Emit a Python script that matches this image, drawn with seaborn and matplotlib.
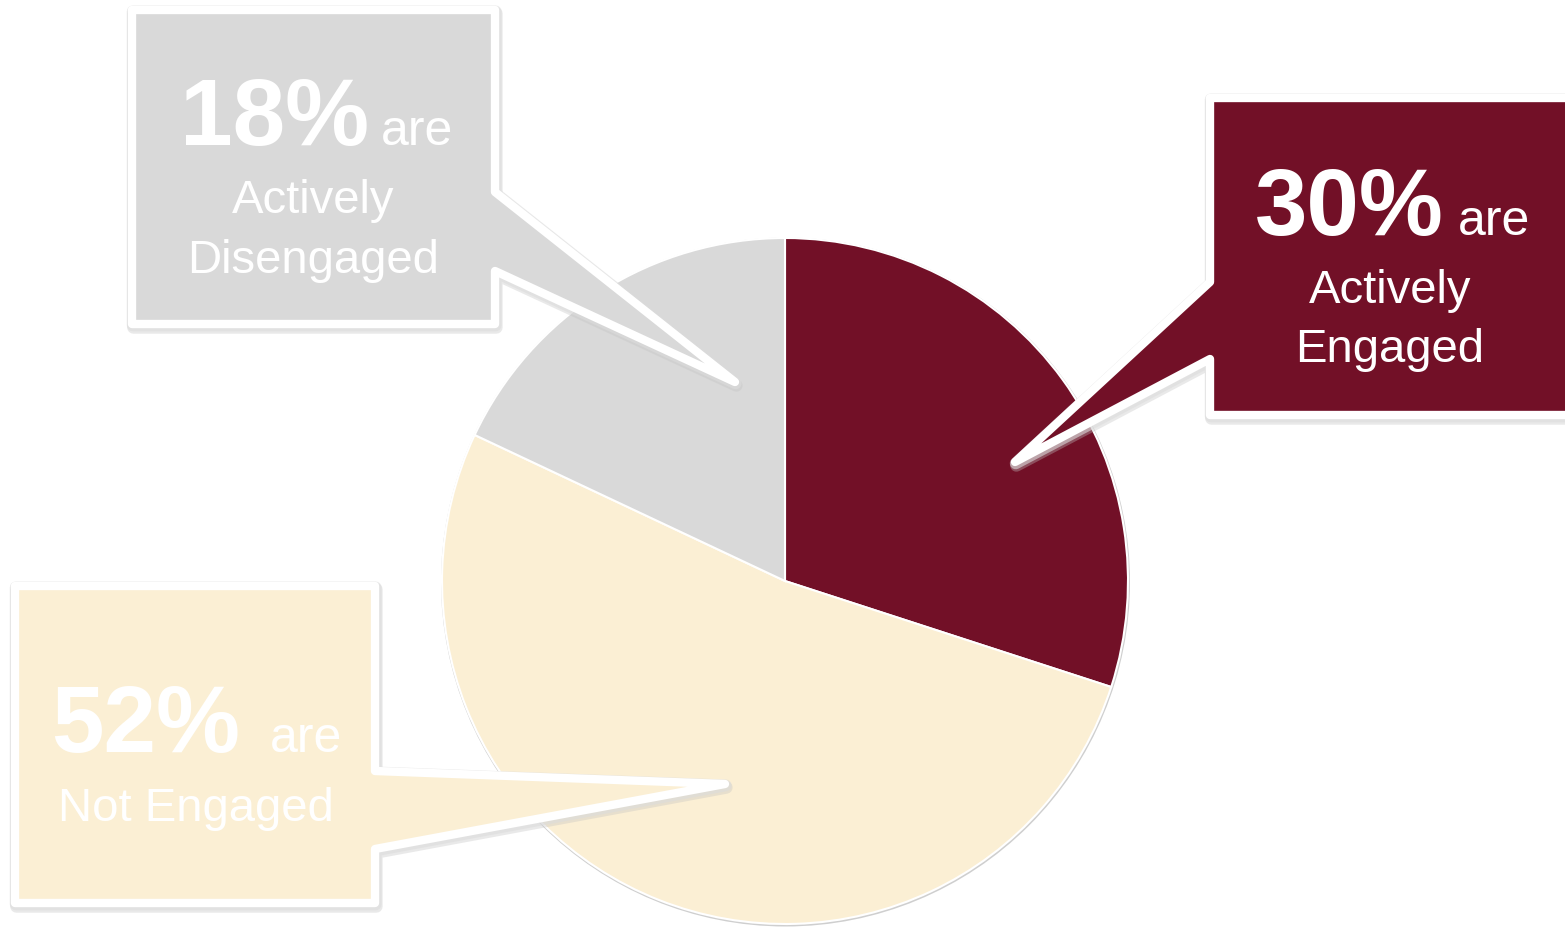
import matplotlib
matplotlib.use("Agg")
import matplotlib.pyplot as plt
import matplotlib.patheffects as pe
from matplotlib.patches import Polygon, Circle
import seaborn as sns

# Engagement survey results
segments = ["Actively\nEngaged", "Not Engaged", "Actively\nDisengaged"]
shares = [30, 52, 18]
segment_colors = ["#721027", "#FBEFD4", "#D9D9D9"]

sns.set_theme(style="white")
plt.rcParams["font.family"] = ["Liberation Sans", "DejaVu Sans"]

W, H = 1565, 928
fig = plt.figure(figsize=(W / 100, H / 100), dpi=100)
ax = fig.add_axes([0, 0, 1, 1])

palette = sns.color_palette(segment_colors)

def fy(y):
    # canvas rows are counted from the top
    return H - y

cx, cy, r = 785, 582, 343

# faint rim under the pie
ax.add_patch(Circle((cx + 0.5, fy(cy) - 1), r + 1.5, facecolor="#cfcfcf",
                    edgecolor="none", zorder=0))
wedges, _ = ax.pie(
    shares,
    colors=palette,
    startangle=90,
    counterclock=False,
    center=(cx, fy(cy)),
    radius=r,
    wedgeprops=dict(edgecolor="white", linewidth=1.5),
    frame=False,
)
for w in wedges:
    w.set_zorder(1)

# callout outlines (box with pointer tail), in canvas pixels
callouts = [
    # Actively Engaged
    dict(pts=[(1210, 99), (1590, 99), (1590, 416), (1210, 416), (1210, 360),
              (1015, 463), (1210, 283)],
         big=(1255, 235), are=(1458, 235), sub_x=1390, sub_y=[303, 362]),
    # Not Engaged
    dict(pts=[(15, 587), (375, 587), (375, 772), (725, 785), (375, 850),
              (375, 904), (15, 904)],
         big=(51, 752), are=(270, 752), sub_x=196, sub_y=[821]),
    # Actively Disengaged
    dict(pts=[(132, 11), (495, 11), (495, 193), (735, 383), (495, 272),
              (495, 325), (132, 325)],
         big=(180, 145), are=(381, 145), sub_x=313, sub_y=[213, 273]),
]

# white frame with a soft grey drop shadow
frame_effects = [
    pe.Stroke(offset=(1, -2.5), linewidth=9, foreground="#c2c2c2", alpha=0.35),
    pe.Stroke(offset=(0.5, -1), linewidth=8.5, foreground="#dcdcdc", alpha=0.6),
    pe.Normal(),
]

for share, label, color, c in zip(shares, segments, palette, callouts):
    poly = Polygon([(x, fy(y)) for x, y in c["pts"]], closed=True,
                   facecolor=color, edgecolor="white", linewidth=6,
                   joinstyle="round", zorder=3)
    poly.set_path_effects(frame_effects)
    ax.add_patch(poly)

    bx, by = c["big"]
    ax.text(bx, fy(by), f"{share}%", color="white", fontsize=68, fontweight="bold",
            ha="left", va="baseline", zorder=4)
    ax_, ay_ = c["are"]
    ax.text(ax_, fy(ay_), "are", color="white", fontsize=36,
            ha="left", va="baseline", zorder=4)
    for line, ly in zip(label.split("\n"), c["sub_y"]):
        ax.text(c["sub_x"], fy(ly), line, color="white", fontsize=34,
                ha="center", va="baseline", zorder=4)

ax.set_xlim(0, W)
ax.set_ylim(0, H)
ax.set_aspect("equal")
ax.axis("off")

fig.savefig("out.png", dpi=100, facecolor="white")
